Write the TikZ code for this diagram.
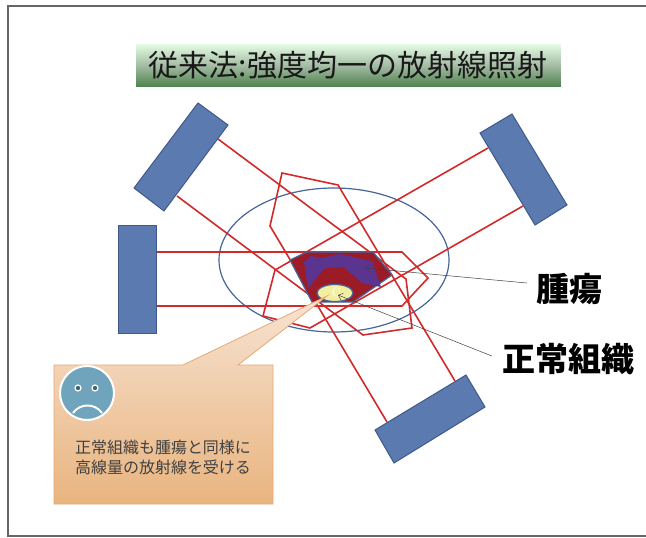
\documentclass[tikz,border=0pt]{standalone}
\usepackage{fontspec}
\newfontfamily\jp{Noto Sans CJK JP}
\usetikzlibrary{arrows.meta,positioning}
\definecolor{beamred}{HTML}{D22A2A}
\definecolor{headfill}{HTML}{5A7AB0}
\definecolor{headedge}{HTML}{41598A}
\definecolor{bodyline}{HTML}{46659A}
\definecolor{tumred}{HTML}{9B1C26}
\definecolor{tumpurple}{HTML}{5B3490}
\definecolor{normfill}{HTML}{F3EFA2}
\definecolor{notetop}{HTML}{F7E3D2}
\definecolor{notebot}{HTML}{E9B47F}
\definecolor{noteedge}{HTML}{E8A874}
\definecolor{facefill}{HTML}{6FA4BC}

\begin{document}
\begin{tikzpicture}[x=1pt,y=-1pt,>={Straight Barb[length=4pt,width=7pt]},
head/.style={draw=headedge,fill=headfill,line width=1pt},
ray/.style={draw=beamred,line width=1.6pt},
lbl/.style={font=\jp\bfseries\fontsize{33}{33}\selectfont,inner sep=0pt},
pointer/.style={->,draw=black!75,line width=0.5pt}]
\useasboundingbox (0,0) rectangle (646,538);
\fill[white] (0,0) rectangle (646,538);
\draw[black!60,line width=1.5pt] (652,6) -- (8,6) -- (8,536) -- (652,536);

% title bar
\node[draw=white,line width=0.5pt,top color=green!10!white,bottom color=green!30!black!70,
  middle color=green!25!black!35,minimum width=426pt,minimum height=44pt,inner sep=0pt,
  font=\jp\fontsize{30}{30}\selectfont,text=black!90] (title) at (348,65) {従来法:強度均一の放射線照射};

% patient outline
\draw[bodyline,line width=1.2pt] (334,260) ellipse [x radius=115,y radius=72];

% beams, one per head
\draw[ray] (156,252) -- (402,252) -- (428,278) -- (402,306) -- (156,306);
\draw[ray] (218,139) -- (406,279) -- (412,328) -- (363,335) -- (177,196);
\draw[ray] (488,148) -- (275,270) -- (263,316) -- (310,328) -- (523,206);
\draw[ray] (387,422) -- (270,226) -- (282,173) -- (338,185) -- (455,381);

% heads
\draw[head] (118,225) rectangle (156,333);
\draw[head] (198,103) -- (228,125) -- (164,211) -- (134,188) -- cycle;
\draw[head] (480,133) -- (512,114) -- (567,205) -- (535,225) -- cycle;
\draw[head] (375,430) -- (466,375) -- (485,407) -- (394,463) -- cycle;

% tumour and normal tissue
\draw[bodyline,fill=tumred,line width=1.2pt] (290,260) -- (307,252) -- (373,252) -- (392,275)
  -- (353,302) -- (312,302) -- cycle;
\fill[tumpurple] (304,262) -- (311,256) -- (322,258) -- (340,254) -- (357,258) -- (372,261)
  -- (381,287) -- (362,283) -- (344,267) -- (325,268) -- (308,288) -- cycle;
\draw[bodyline,fill=normfill,line width=1.2pt] (335,293) ellipse [x radius=18,y radius=8.5];
\node[text=white,font=\fontsize{12}{12}\selectfont,inner sep=0pt] (cmark) at (336,292) {C};

% callout
\draw[noteedge,line width=0.8pt,top color=notetop,bottom color=notebot]
  (54,365) -- (183,365) -- (327,296) -- (238,365) -- (273,365) -- (273,504) -- (54,504) -- cycle;
\draw[white,fill=facefill,line width=2pt] (87,393) circle (27);
\draw[white,fill=facefill!60!black,line width=1.2pt] (78,388) circle (3) (95,388) circle (3);
\draw[white,line width=2pt] (73,413) .. controls (80,403) and (95,403) .. (102,413);
\node[font=\jp\fontsize{16}{20}\selectfont,text=black!75,align=center] (note) at (163,457)
  {正常組織も腫瘍と同様に\\高線量の放射線を受ける};

% labels
\node[lbl] (tumorlbl) at (569,289) {腫瘍};
\node[lbl] (normallbl) at (568,359) {正常組織};
\coordinate (tumorpt) at (365,268);
\coordinate (normalpt) at (338,295);
\draw[pointer] ([xshift=-9pt,yshift=6pt]tumorlbl.west) -- (tumorpt);
\draw[pointer] ([xshift=-10pt,yshift=3pt]normallbl.west) -- (normalpt);
\end{tikzpicture}
\end{document}
